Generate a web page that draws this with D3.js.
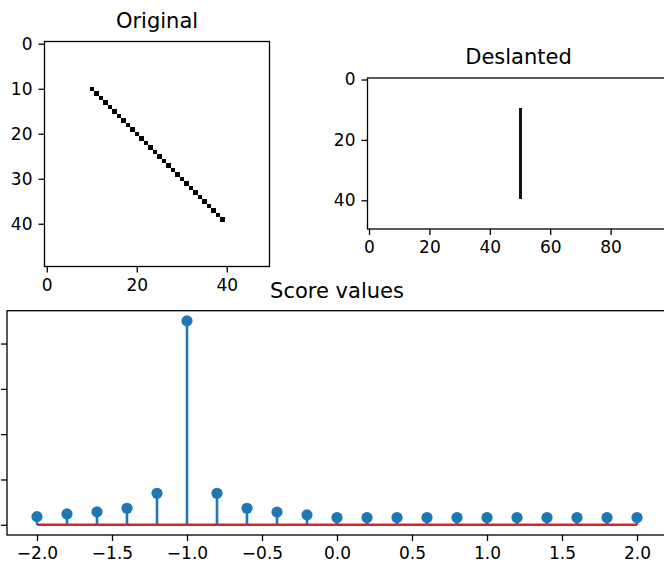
<!DOCTYPE html>
<html>
<head>
<meta charset="utf-8">
<script src="https://cdn.jsdelivr.net/npm/d3@7"></script>
<style>
  body { margin: 0; background: #fff; }
  text { font-family: "DejaVu Sans", sans-serif; fill: #000; }
  .axis text { font-size: 17px; }
  .axis line, .axis path { stroke: #000; stroke-width: 1.3; }
  .title { font-size: 21px; text-anchor: middle; }
</style>
</head>
<body>
<svg id="fig" width="664" height="569"></svg>
<script>
// image pixels set in the "Original" picture (row, col)
const origRows = [10,11,12,13,14,15,16,17,18,19,20,21,22,23,24,25,26,27,28,29,30,31,32,33,34,35,36,37,38,39];
const origCols = [10,11,12,13,14,15,16,17,18,19,20,21,22,23,24,25,26,27,28,29,30,31,32,33,34,35,36,37,38,39];

// image pixels set in the "Deslanted" picture
const deslRows = [10,11,12,13,14,15,16,17,18,19,20,21,22,23,24,25,26,27,28,29,30,31,32,33,34,35,36,37,38,39];
const deslCols = [50,50,50,50,50,50,50,50,50,50,50,50,50,50,50,50,50,50,50,50,50,50,50,50,50,50,50,50,50,50];

// score per shear value
const shears = [-2.0,-1.8,-1.6,-1.4,-1.2,-1.0,-0.8,-0.6,-0.4,-0.2,0.0,0.2,0.4,0.6,0.8,1.0,1.2,1.4,1.6,1.8,2.0];
const scores = [36,48,57,73,139,900,139,73,56,44,32,32,32,32,32,32,32,32,32,32,32];

const origXTicks = [0, 20, 40];
const origYTicks = [0, 10, 20, 30, 40];
const deslXTicks = [0, 20, 40, 60, 80];
const deslYTicks = [0, 20, 40];
const scoreXTicks = [-2.0, -1.5, -1.0, -0.5, 0.0, 0.5, 1.0, 1.5, 2.0];
const scoreYTicks = [0, 200, 400, 600, 800];

const svg = d3.select("#fig");
const blue = "#1f77b4";
const red = "#d62728";

function imagePanel(box, nCols, nRows, rows, cols, xTicks, yTicks, title, color) {
    const x = d3.scaleLinear().domain([-0.5, nCols - 0.5]).range([box.x0, box.x1]);
    const y = d3.scaleLinear().domain([-0.5, nRows - 0.5]).range([box.y0, box.y1]);

    const g = svg.append("g");
    g.selectAll("rect.px")
        .data(rows.map((r, i) => ({ r: r, c: cols[i] })))
        .join("rect")
        .attr("class", "px")
        .attr("x", d => x(d.c - 0.5))
        .attr("y", d => y(d.r - 0.5))
        .attr("width", d => x(d.c + 0.5) - x(d.c - 0.5))
        .attr("height", d => y(d.r + 0.5) - y(d.r - 0.5))
        .attr("fill", color)
        .attr("shape-rendering", "crispEdges");

    g.append("g")
        .attr("class", "axis")
        .attr("transform", "translate(0," + box.y1 + ")")
        .call(d3.axisBottom(x).tickValues(xTicks).tickFormat(d3.format("d")).tickSize(6).tickSizeOuter(0).tickPadding(6))
        .select(".domain").remove();

    g.append("g")
        .attr("class", "axis")
        .attr("transform", "translate(" + box.x0 + ",0)")
        .call(d3.axisLeft(y).tickValues(yTicks).tickFormat(d3.format("d")).tickSize(6).tickSizeOuter(0).tickPadding(6))
        .select(".domain").remove();

    g.append("rect")
        .attr("x", box.x0).attr("y", box.y0)
        .attr("width", box.x1 - box.x0).attr("height", box.y1 - box.y0)
        .attr("fill", "none").attr("stroke", "#000").attr("stroke-width", 1.3);

    g.append("text")
        .attr("class", "title")
        .attr("x", (box.x0 + box.x1) / 2)
        .attr("y", box.y0 - 14)
        .text(title);
}

imagePanel({ x0: 44.5, x1: 269.5, y0: 41.5, y1: 266.5 }, 50, 50,
    origRows, origCols, origXTicks, origYTicks, "Original", "#000");

imagePanel({ x0: 367.5, x1: 669.5, y0: 78, y1: 229 }, 100, 50,
    deslRows, deslCols, deslXTicks, deslYTicks, "Deslanted", "#111");

// stem plot of scores
const sBox = { x0: 7, x1: 667, y0: 310.7, y1: 535 };
const xS = d3.scaleLinear().domain([-2.2, 2.2]).range([sBox.x0, sBox.x1]);
const yS = d3.scaleLinear().domain([-45, 945]).range([sBox.y1, sBox.y0]);

const sg = svg.append("g");

sg.append("g")
    .attr("class", "axis")
    .attr("transform", "translate(0," + sBox.y1 + ")")
    .call(d3.axisBottom(xS).tickValues(scoreXTicks).tickFormat(d3.format(".1f")).tickSize(6).tickSizeOuter(0).tickPadding(6))
    .select(".domain").remove();

sg.append("g")
    .attr("class", "axis")
    .attr("transform", "translate(" + sBox.x0 + ",0)")
    .call(d3.axisLeft(yS).tickValues(scoreYTicks).tickFormat(d3.format("d")).tickSize(6).tickSizeOuter(0).tickPadding(6))
    .select(".domain").remove();

const stems = shears.map((s, i) => ({ s: s, v: scores[i] }));

sg.selectAll("line.stem")
    .data(stems)
    .join("line")
    .attr("class", "stem")
    .attr("x1", d => xS(d.s)).attr("x2", d => xS(d.s))
    .attr("y1", yS(0)).attr("y2", d => yS(d.v))
    .attr("stroke", blue).attr("stroke-width", 2.6);

sg.append("line")
    .attr("x1", xS(d3.min(shears))).attr("x2", xS(d3.max(shears)))
    .attr("y1", yS(0)).attr("y2", yS(0))
    .attr("stroke", red).attr("stroke-width", 2.6);

sg.selectAll("circle.mark")
    .data(stems)
    .join("circle")
    .attr("class", "mark")
    .attr("cx", d => xS(d.s))
    .attr("cy", d => yS(d.v))
    .attr("r", 5.6)
    .attr("fill", blue);

sg.append("rect")
    .attr("x", sBox.x0).attr("y", sBox.y0)
    .attr("width", sBox.x1 - sBox.x0).attr("height", sBox.y1 - sBox.y0)
    .attr("fill", "none").attr("stroke", "#000").attr("stroke-width", 1.3);

sg.append("text")
    .attr("class", "title")
    .attr("x", (sBox.x0 + sBox.x1) / 2)
    .attr("y", 298)
    .text("Score values");
</script>
</body>
</html>
